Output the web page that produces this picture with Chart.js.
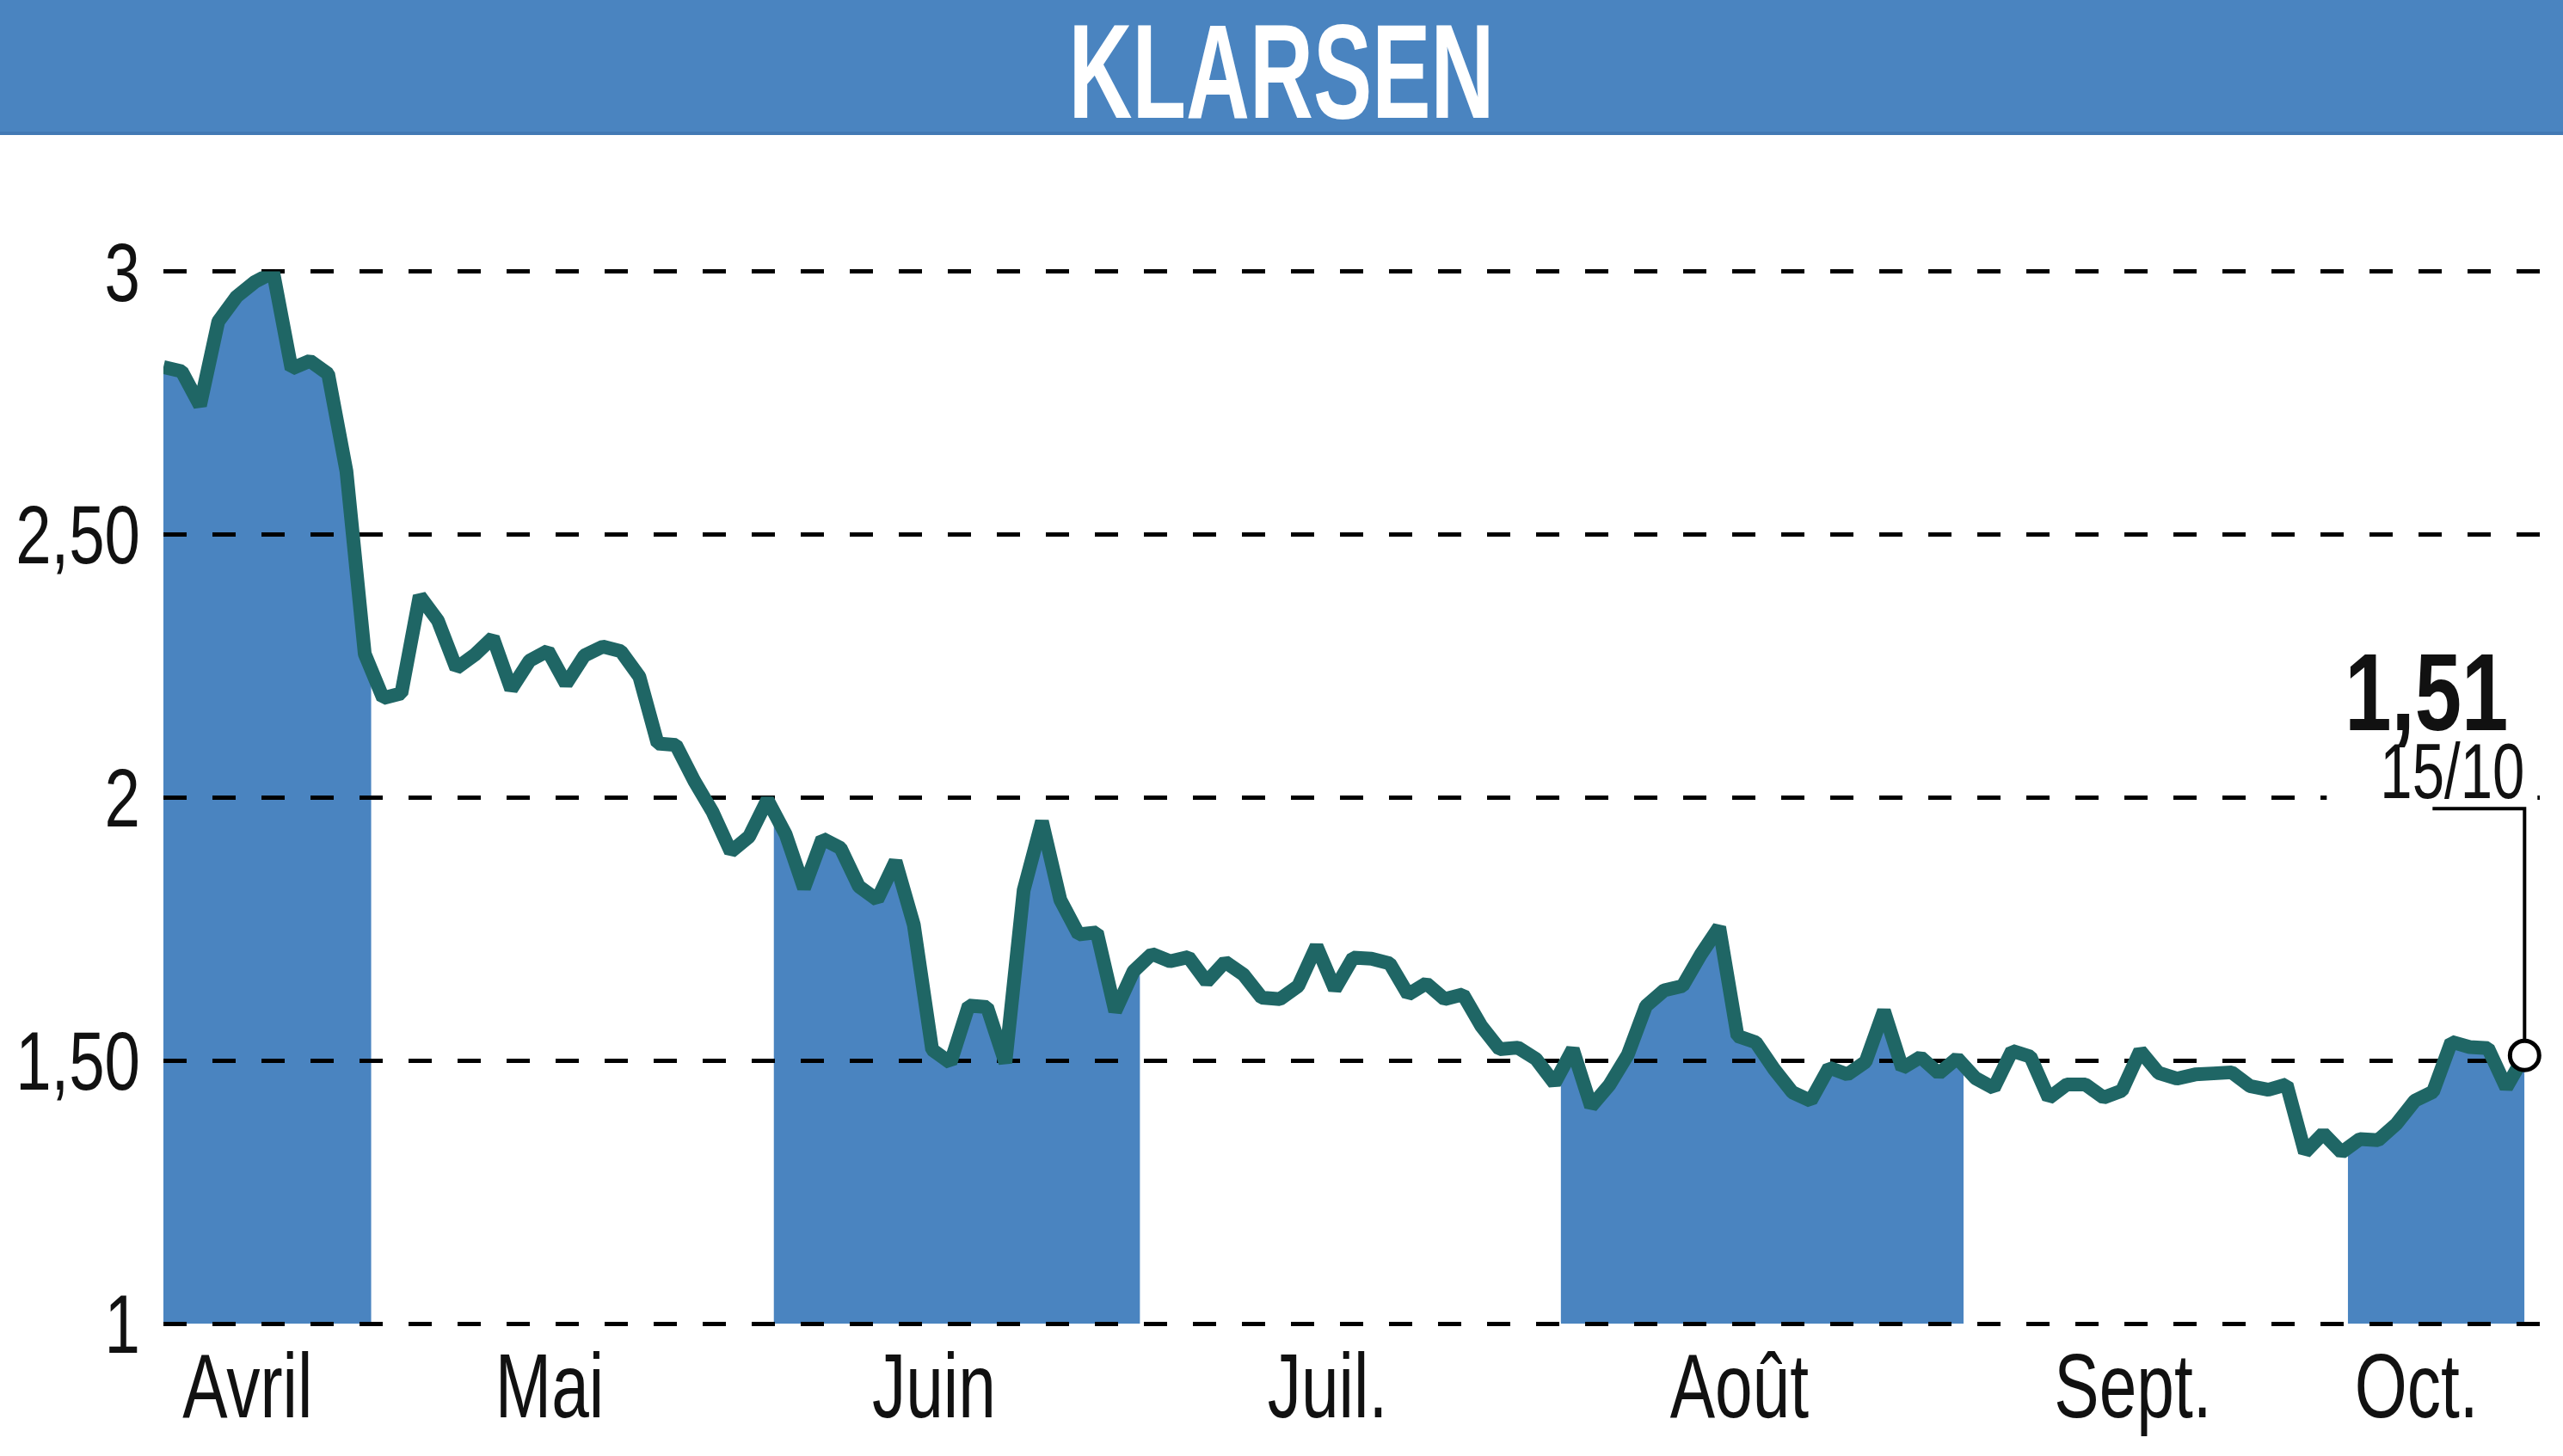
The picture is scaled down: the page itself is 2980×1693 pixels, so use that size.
<!DOCTYPE html>
<html lang="fr">
<head>
<meta charset="utf-8">
<title>KLARSEN</title>
<script src="https://cdn.jsdelivr.net/npm/chart.js@4.4.1/dist/chart.umd.min.js"></script>
<style>
    html, body { margin: 0; padding: 0; background: #fff; }
    body { width: 2980px; height: 1693px; overflow: hidden; }
    #chart { display: block; }
</style>
</head>
<body>
<canvas id="chart" width="2980" height="1693"></canvas>
<script>
// ---------- Data ----------
const title = "KLARSEN";
const monthNames = ["Avril", "Mai", "Juin", "Juil.", "Août", "Sept.", "Oct."];
const monthNumbers = [4, 5, 6, 7, 8, 9, 10];

// trading days of each month
const daysApr = [12, 15, 16, 17, 18, 23, 24, 25, 26, 29, 30];
const daysMay = [2, 3, 6, 7, 8, 9, 10, 13, 14, 15, 16, 17, 20, 21, 22, 23, 24, 27, 28, 29, 30, 31];
const daysJun = [3, 4, 5, 6, 7, 10, 11, 12, 13, 14, 17, 18, 19, 20, 21, 24, 25, 26, 27, 28];
const daysJul = [1, 2, 3, 4, 5, 8, 9, 10, 11, 12, 15, 16, 17, 18, 19, 22, 23, 24, 25, 26, 29, 30, 31];
const daysAug = [1, 2, 5, 6, 7, 8, 9, 12, 13, 14, 15, 16, 19, 20, 21, 22, 23, 26, 27, 28, 29, 30];
const daysSep = [2, 3, 4, 5, 6, 9, 10, 11, 12, 13, 16, 17, 18, 19, 20, 23, 24, 25, 26, 27, 30];
const daysOct = [1, 2, 3, 4, 7, 8, 9, 10, 11, 14, 15];

// closing prices (EUR)
const pricesApr = [2.818, 2.81, 2.745, 2.905, 2.952, 2.98, 2.998, 2.815, 2.83, 2.805, 2.62];
const pricesMay = [2.273, 2.189, 2.198, 2.383, 2.336, 2.246, 2.271, 2.304, 2.206, 2.26, 2.279,
                   2.216, 2.27, 2.287, 2.278, 2.23, 2.103, 2.10, 2.032, 1.973, 1.897, 1.926];
const pricesJun = [1.996, 1.93, 1.828, 1.922, 1.904, 1.831, 1.806, 1.879, 1.758, 1.521,
                   1.496, 1.605, 1.602, 1.496, 1.824, 1.955, 1.806, 1.74, 1.744, 1.594];
const pricesJul = [1.67, 1.703, 1.689, 1.697, 1.65, 1.688, 1.664, 1.62, 1.617, 1.642, 1.718, 1.636,
                   1.696, 1.694, 1.685, 1.626, 1.647, 1.617, 1.626, 1.566, 1.522, 1.525, 1.503];
const pricesAug = [1.457, 1.522, 1.413, 1.454, 1.511, 1.604, 1.634, 1.642, 1.702, 1.754, 1.547,
                   1.535, 1.484, 1.44, 1.424, 1.487, 1.474, 1.498, 1.595, 1.486, 1.507, 1.476];
const pricesSep = [1.505, 1.467, 1.448, 1.519, 1.508, 1.429, 1.455, 1.455, 1.43, 1.443, 1.519,
                   1.477, 1.466, 1.474, 1.476, 1.478, 1.452, 1.445, 1.455, 1.326, 1.362];
const pricesOct = [1.326, 1.351, 1.349, 1.38, 1.424, 1.441, 1.536, 1.526, 1.524, 1.449, 1.51];

const yTicks = [1, 1.5, 2, 2.5, 3];
const plainMonths = [1, 3, 5]; // Mai, Juil., Sept. are left unshaded

// ---------- Derived series ----------
const tradingDays = [daysApr, daysMay, daysJun, daysJul, daysAug, daysSep, daysOct];
const monthPrices = [pricesApr, pricesMay, pricesJun, pricesJul, pricesAug, pricesSep, pricesOct];

const pad2 = n => String(n).padStart(2, "0");
const dates = [];
const monthStarts = [];
tradingDays.forEach((days, m) => {
    monthStarts.push(dates.length);
    days.forEach(d => dates.push(pad2(d) + "/" + pad2(monthNumbers[m])));
});
const prices = monthPrices.flat();
const lastIndex = prices.length - 1;
const lineData = prices.map((p, i) => ({ x: i, y: p }));

const monthEnd = m => (m + 1 < monthStarts.length ? monthStarts[m + 1] : lastIndex);

// month label sits a little left of the middle of its month
const labelPos = monthStarts.map((s, m) => (s + monthEnd(m)) / 2 - 0.9);

// ---------- Styles ----------
const BLUE = "#4a84c0";
const TEAL = "#1f6665";
const INK = "#111";
const SANS = "'Liberation Sans', Arial, sans-serif";
const BAND_SHIFT = 0.35; // month edges fall just after the first session

function formatFr(v) {
    return Number.isInteger(v) ? String(v) : v.toFixed(2).replace(".", ",");
}

// condensed text: squeeze horizontally by a factor, or to a width
function drawSqueezed(c, text, x, y, font, squeeze, align, color) {
    c.save();
    c.font = font;
    c.translate(x, y);
    c.scale(squeeze, 1);
    c.textAlign = align;
    c.textBaseline = "alphabetic";
    c.fillStyle = color;
    c.fillText(text, 0, 0);
    c.restore();
}

function drawFitted(c, text, x, y, width, font, align, color) {
    c.save();
    c.font = font;
    const w = c.measureText(text).width;
    c.restore();
    drawSqueezed(c, text, x, y, font, width / w, align, color);
}

// ---------- Banner, month bands, labels, last value ----------
const decorations = {
    id: "decorations",
    beforeDraw(chart) {
        const c = chart.ctx;
        const area = chart.chartArea;
        const xs = chart.scales.x;

        // fill is drawn first (filler drawTime beforeDraw); blank the unshaded months
        c.save();
        c.fillStyle = "#fff";
        plainMonths.forEach(m => {
            const x0 = xs.getPixelForValue(monthStarts[m] + BAND_SHIFT);
            const x1 = xs.getPixelForValue(monthEnd(m) + BAND_SHIFT);
            c.fillRect(x0, area.top - 10, x1 - x0, area.bottom - area.top + 12);
        });

        c.fillStyle = BLUE;
        c.fillRect(0, 0, chart.width, 157);
        c.fillStyle = "#4279b4";
        c.fillRect(0, 153, chart.width, 4);
        c.restore();
        drawFitted(c, title, chart.width / 2, 137, 495, "bold 156px " + SANS, "center", "#fff");
    },
    afterDraw(chart) {
        const c = chart.ctx;
        const area = chart.chartArea;
        const xs = chart.scales.x;
        const ys = chart.scales.y;

        // axis labels
        ys.ticks.forEach(t => {
            drawSqueezed(c, formatFr(t.value), area.left - 27, ys.getPixelForValue(t.value) + 34,
                         "96px " + SANS, 0.775, "right", INK);
        });
        xs.ticks.forEach((t, i) => {
            drawSqueezed(c, monthNames[i], xs.getPixelForValue(t.value), area.bottom + 109,
                         "106px " + SANS, 0.74, "center", INK);
        });

        // last value callout
        const px = xs.getPixelForValue(lastIndex);
        const py = ys.getPixelForValue(prices[lastIndex]);

        c.save();
        c.fillStyle = "#fff";
        c.fillRect(px - 230, py - 487, 245, 195);
        c.restore();

        drawFitted(c, formatFr(prices[lastIndex]), px - 19, py - 378, 190, "bold 128px " + SANS, "right", INK);
        drawFitted(c, dates[lastIndex], px, py - 299, 168, "91px " + SANS, "right", INK);

        c.save();
        c.strokeStyle = "#000";
        c.lineWidth = 4;
        c.beginPath();
        c.moveTo(px - 107, py - 287);
        c.lineTo(px, py - 287);
        c.lineTo(px, py - 17);
        c.stroke();

        c.beginPath();
        c.arc(px, py, 17, 0, Math.PI * 2);
        c.fillStyle = "#fff";
        c.fill();
        c.lineWidth = 5;
        c.stroke();
        c.restore();
    }
};

// ---------- Chart ----------
const ctx = document.getElementById("chart").getContext("2d");

const priceChart = new Chart(ctx, {
    type: "line",
    data: {
        datasets: [
            {
                label: "area",
                data: lineData,
                borderWidth: 0,
                borderColor: "transparent",
                backgroundColor: BLUE,
                fill: "start",
                pointRadius: 0
            },
            {
                label: title,
                data: lineData,
                borderColor: TEAL,
                borderWidth: 16,
                borderJoinStyle: "bevel",
                pointRadius: 0,
                fill: false,
                tension: 0
            }
        ]
    },
    options: {
        responsive: false,
        devicePixelRatio: 1,
        animation: false,
        layout: { padding: { top: 315.5, left: 0, right: 0, bottom: 0 } },
        plugins: {
            legend: { display: false },
            tooltip: { enabled: false },
            filler: { drawTime: "beforeDraw" } // fill sits under the dashed grid
        },
        scales: {
            x: {
                type: "linear",
                min: 0,
                max: 131.1,
                grid: { display: false },
                border: { display: false },
                afterBuildTicks: scale => {
                    scale.ticks = labelPos.map(v => ({ value: v }));
                },
                afterFit: scale => {
                    scale.height = 153.6;
                },
                ticks: { display: false, autoSkip: false }
            },
            y: {
                min: 1,
                max: 3,
                afterBuildTicks: scale => {
                    scale.ticks = yTicks.map(v => ({ value: v }));
                },
                afterFit: scale => {
                    scale.width = 190;
                },
                grid: { color: "#000", lineWidth: 5, drawTicks: false },
                border: { display: false, dash: [27, 30] },
                ticks: { display: false }
            }
        }
    },
    plugins: [decorations]
});
</script>
</body>
</html>
